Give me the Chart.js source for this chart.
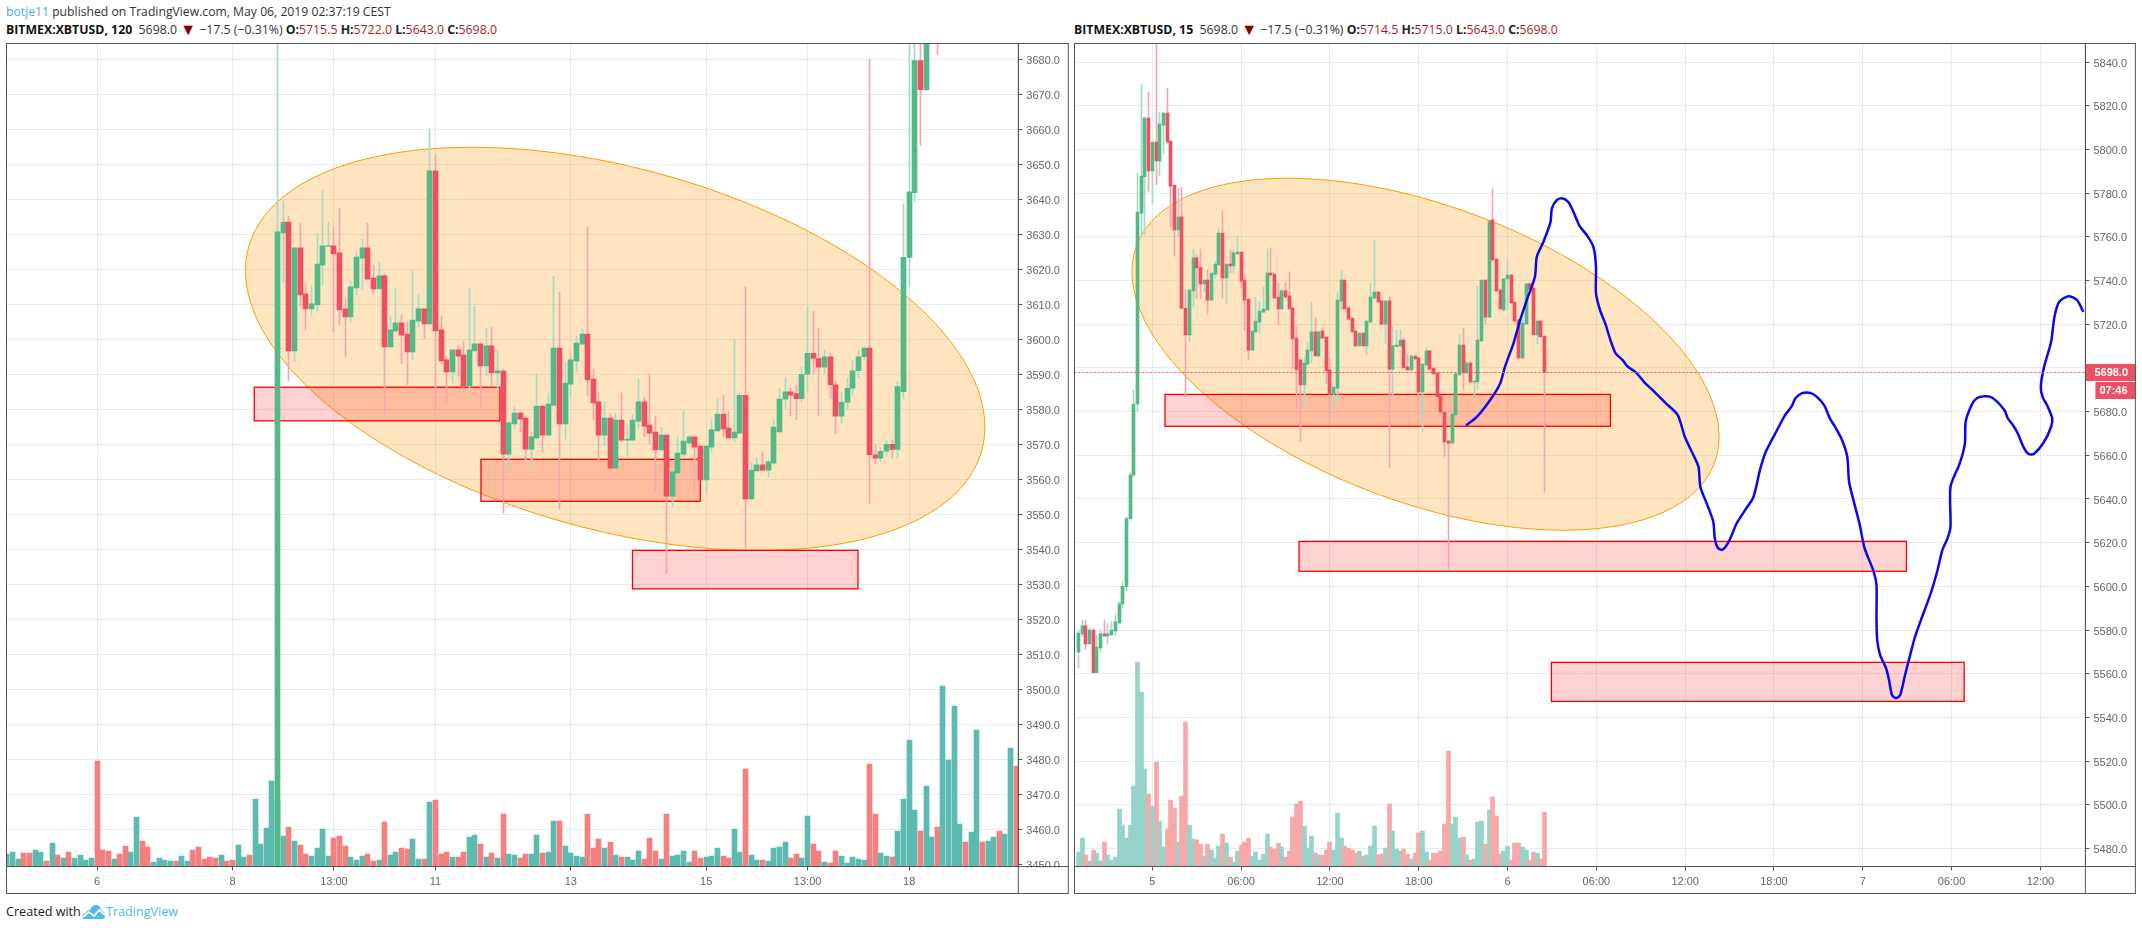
<!DOCTYPE html>
<html><head><meta charset="utf-8">
<script src="https://cdn.jsdelivr.net/npm/chart.js@4"></script>
<style>
html,body{margin:0;padding:0;background:#fff;width:2142px;height:930px;overflow:hidden}
canvas{position:absolute;top:0}
.t{position:absolute;white-space:nowrap;font-family:"Open Sans",sans-serif;font-size:12.2px;line-height:16px;color:#333}
.row{font-size:12.3px}
.b{font-weight:700;color:#111}.r{color:#b01c1c}.k{color:#222;font-weight:700}.tri{color:#8b0000;font-size:16px;line-height:14px;vertical-align:-1px}
.blue{color:#42b4e6}
</style></head><body>
<div class="t" style="left:6px;top:4px"><span class="blue">botje11</span> published on TradingView.com, May 06, 2019 02:37:19 CEST</div>
<div class="t row" style="left:6px;top:22px"><span class="b">BITMEX:XBTUSD, 120</span>&nbsp; 5698.0 <span class="tri">▼</span> −17.5 (−0.31%) <span class="k">O:</span><span class="r">5715.5</span> <span class="k">H:</span><span class="r">5722.0</span> <span class="k">L:</span><span class="r">5643.0</span> <span class="k">C:</span><span class="r">5698.0</span></div>
<div class="t row" style="left:1074px;top:22px"><span class="b">BITMEX:XBTUSD, 15</span>&nbsp; 5698.0 <span class="tri">▼</span> −17.5 (−0.31%) <span class="k">O:</span><span class="r">5714.5</span> <span class="k">H:</span><span class="r">5715.0</span> <span class="k">L:</span><span class="r">5643.0</span> <span class="k">C:</span><span class="r">5698.0</span></div>
<div class="t" style="left:6px;top:904px;font-size:12.6px;color:#222">Created with</div>
<svg style="position:absolute;left:82px;top:904px" width="24" height="16" viewBox="0 0 24 16"><path d="M1 15 Q-1 10 4 9 Q5 6 8 6 Q10 1 14 1 Q18 1 19 6 Q24 8 23 13 Q22 15 20 15 Z" fill="#4fb9e8"/><path d="M1 13 L7 8 L12 12 L17 6 L23 11" fill="none" stroke="#fff" stroke-width="1.7"/></svg>
<div class="t" style="left:106px;top:904px;font-size:12.6px;color:#4fb9e8">TradingView</div>
<canvas id="left" width="1070" height="930" style="left:0"></canvas>
<canvas id="right" width="1072" height="930" style="left:1070px"></canvas>
<script>
// ---------- tick labels ----------
const leftPriceTicks=[3450,3460,3470,3480,3490,3500,3510,3520,3530,3540,3550,3560,3570,3580,3590,3600,3610,3620,3630,3640,3650,3660,3670,3680];
const rightPriceTicks=[5480,5500,5520,5540,5560,5580,5600,5620,5640,5660,5680,5700,5720,5740,5760,5780,5800,5820,5840];
const leftTimeIdx=[16,40,58,76,100,124,142,160];
const leftTimeLabels=['6','8','13:00','11','13','15','13:00','18'];
const rightTimeIdx=[20,44,68,92,116,140,164,188,212,236,260];
const rightTimeLabels=['5','06:00','12:00','18:00','6','06:00','12:00','18:00','7','06:00','12:00'];

// ---------- left pane (120 min) ----------
const leftCandleStart=48;
const leftOpen=[3440,3630.4,3633.5,3596.7,3626.1,3613,3608.7,3609.8,3621.2,3626.5,
3626.7,3624.7,3608.7,3606.4,3614.7,3623.2,3626.1,3617.5,3614.4,3618.1,
3597.8,3602.4,3604.7,3601.5,3596.4,3605.2,3608.7,3604.4,3648.1,3602.7,
3594.1,3590.7,3597,3595.5,3586.7,3596.7,3598.7,3592.4,3598.1,3590.4,
3590.9,3567.2,3575.8,3578.9,3577.5,3568.6,3571.8,3580.9,3572.6,3581.2,
3597.5,3575.8,3587.2,3593.8,3598.6,3601.5,3588.6,3582.1,3572.6,3577.5,
3563.2,3576.9,3571.2,3571.2,3576.6,3582.1,3575.5,3573.5,3568.4,3572.6,
3555.2,3561.8,3567.2,3570.4,3572.1,3569.5,3559.8,3569.2,3573.8,3578.6,
3574.6,3571.8,3573.2,3584,3554.4,3562.4,3564.1,3562.6,3564.6,3573.5,
3582.9,3585,3584.5,3583,3590,3596,3594.5,3592,3595,3587,
3578,3582,3586,3591,3595,3597.5,3567,3566,3568,3570,
3568.5,3585,3623.4,3641.9,3679.6,3671.3,3700,3720];
const leftHigh=[3700,3639.5,3635.2,3626.1,3633.2,3616.1,3615,3630.1,3642.7,3633.5,
3632.1,3637.5,3611.5,3616.7,3624.7,3628.7,3633.2,3621.2,3622.1,3618.7,
3606.7,3614.7,3607,3605,3619.5,3613,3608.7,3660.1,3652.7,3606.7,
3595,3597,3598.1,3599.5,3614.7,3609.5,3599,3603,3603.5,3597,
3591.5,3576.6,3580.6,3579.5,3578.1,3573.5,3590.1,3580.9,3584.6,3618,
3613.5,3593.5,3596,3600.9,3602.9,3632,3591.5,3584.9,3582.1,3578.6,
3578.9,3584.6,3575.5,3578.6,3588.6,3583.5,3590.1,3578.1,3574.9,3572.6,
3562.1,3572.1,3579.5,3572.6,3572.1,3570.1,3569.5,3576.9,3582.9,3584,
3579.5,3600,3584.6,3615,3564.6,3566.1,3568,3565.5,3576.9,3586,
3589,3586,3587,3592,3609.5,3608,3603,3597,3596,3588,
3585,3589,3594,3597,3598,3680,3570,3569,3571,3571,
3588,3638.7,3700,3700,3700,3705,3725,3725];
const leftLow=[3440,3616.2,3588.1,3593.5,3609.5,3602.7,3606.7,3608.1,3615.5,3626.5,
3602.1,3604.1,3595,3604.7,3612.7,3614.4,3617.2,3613,3614.4,3578.9,
3597.8,3602.1,3593,3587,3594.1,3603.5,3600.1,3604.1,3579.8,3593,
3582,3587.5,3589.5,3585.7,3585.5,3596.7,3580,3589.5,3586.7,3585.7,
3550.3,3562.9,3574.6,3573.5,3565.5,3562.9,3571.8,3568,3572.6,3580.9,
3551.5,3571.5,3583.5,3590.6,3598.6,3584,3576.9,3565.5,3569.5,3562.6,
3562.9,3570.9,3566.1,3571.2,3574.6,3572.1,3570.1,3556.9,3568,3533,
3552.1,3560.1,3566.1,3570.1,3556.1,3559.8,3556.1,3568,3573.8,3572.1,
3571.8,3570.6,3573.2,3540,3554.1,3562.4,3562.6,3560.6,3564.4,3573.5,
3580,3578,3577,3582,3585,3590,3578,3590,3583,3573,
3576,3580,3584,3589,3594,3553,3564.5,3565,3566.5,3566,
3566,3583,3615,3639.4,3655.4,3671,3695,3681.4];
const leftClose=[3630.7,3633.5,3596.7,3626.1,3612.7,3608.7,3610.1,3621.5,3626.7,3626.7,
3624.4,3608.4,3606.4,3615,3623.5,3626.1,3617.2,3614.4,3618.1,3597.8,
3602.7,3604.7,3601.2,3596.4,3605.5,3608.7,3604.4,3648.1,3602.4,3593.8,
3590.7,3597,3595.2,3586.7,3597,3598.7,3592.4,3598.1,3590.4,3591,
3567.2,3576.1,3578.9,3577.2,3568.6,3572.1,3580.9,3572.6,3581.5,3597.5,
3575.8,3587.5,3594.1,3598.9,3601.5,3588.4,3581.8,3572.6,3577.5,3563.2,
3576.9,3571.2,3571.5,3576.9,3582.1,3575.2,3573.2,3568.4,3572.6,3555.2,
3562.1,3567.5,3570.9,3572.1,3569.2,3559.8,3569.5,3574.1,3578.6,3574.4,
3571.8,3573.5,3584,3554.4,3562.6,3564.1,3562.6,3565,3574.9,3582.9,
3585,3584,3583,3590,3596,3594.5,3592,3595,3587,3578,
3582,3586,3591,3595,3597.5,3567,3566,3568,3570,3568.5,
3586.5,3623.4,3642.1,3679.6,3671.3,3700,3720,3705];
const leftVolume=[37,43,22,40,40,49,43,16,70,34,25,43,25,34,19,25,316,49,46,22,37,61,43,148,76,58,13,25,19,16,
16,31,16,49,58,22,28,25,34,16,19,64,28,34,202,67,115,256,200,91,118,76,64,37,31,55,112,31,85,91,
61,28,19,31,37,16,19,133,34,43,55,52,82,22,22,193,199,37,43,28,28,43,88,94,67,28,40,25,157,37,
34,25,37,37,94,40,43,136,136,61,40,31,28,157,55,82,55,73,34,28,28,19,46,22,85,46,22,157,31,34,
46,13,46,25,28,31,55,31,25,112,43,292,34,19,19,16,55,58,73,25,37,25,151,67,46,13,10,46,31,10,
28,22,19,307,157,40,31,28,106,202,379,169,106,241,88,118,541,319,481,127,73,103,409,73,76,88,106,97,355,301];
const leftVolumeDir=["uuudduudud","uduuuudddu","dduudduuuu","duudddddud","duuduuuuuu","dudduuuudd","duuudduduu","dduududddu","dduudududu","udduuduudu","uuudddudud","uuuddduduu","uudduuuddu","uduuduuuud","duuddudduu","uuudduuduu","uuduuduuuu","duuduuduud"].join('').split('');

// ---------- right pane (15 min) ----------
const rightOpen=[5569.9,5578.2,5581.9,5573.6,5580,5560.5,5571.8,5578.2,5577.3,5577.7,
5579.6,5583.2,5592,5600,5631,5651,5683.5,5770.9,5787.6,5814.5,
5790.2,5803.5,5794.8,5811.2,5816.7,5803.9,5783.6,5763.2,5769.2,5727.3,
5715.1,5735.3,5750.4,5746.1,5738.5,5740.3,5731.1,5743,5747.2,5761.8,
5741.2,5747.6,5746.7,5752.2,5753.1,5740.3,5731.6,5708.2,5716.5,5721,
5725.6,5726.6,5743.5,5743,5732.5,5727,5735.3,5733,5727.5,5713.7,
5703.7,5692.2,5701.8,5707.8,5716.5,5705.5,5716.9,5714.2,5699.1,5688.1,
5690.8,5730.7,5740.3,5727.5,5722.9,5716.9,5710.1,5716,5710.1,5721,
5732,5734.8,5730.7,5720.1,5730.7,5699.5,5709.8,5710.1,5712.8,5700.5,
5699.1,5705.5,5704.6,5689,5701.4,5707.8,5700,5697.7,5687.2,5679.8,
5666.6,5665.6,5678.5,5696.8,5710.5,5697.7,5702.3,5693.6,5693.6,5712.4,
5740.3,5723.3,5767.8,5749.9,5735.7,5726.6,5740.8,5742.6,5730.2,5722,
5704.6,5720.1,5738.5,5736.6,5715.1,5721.5,5714.5];
const rightHigh=[5580,5584.6,5584.6,5581,5580.5,5577.7,5580,5584.6,5583,5584,
5587,5593,5602,5632,5652,5690,5789.3,5830,5815,5826.4,
5803.5,5855,5817.2,5817.2,5828.2,5804,5784,5782.4,5782.9,5735.7,
5736.2,5754.5,5751.8,5754.5,5740.3,5744.9,5743.5,5749,5764.1,5771.9,
5747.6,5754,5754,5760,5753.1,5743,5731.6,5717.4,5732.5,5730.4,
5737.1,5754.5,5755,5743,5738.9,5736,5739.4,5744,5727.5,5719.2,
5703.7,5705.2,5712,5730.2,5722.9,5716.5,5718,5714.2,5704.6,5691.3,
5734.8,5744.4,5740.3,5728.4,5722.9,5717,5716,5716,5721.5,5738.9,
5758.6,5735,5731,5730.7,5733,5719.2,5717.4,5717.4,5713,5706.3,
5706,5706,5704.6,5702,5709.3,5708,5700,5698,5687.2,5680,
5666.6,5679,5697.5,5715.1,5718.3,5703,5703,5694.5,5737.5,5740.3,
5740.3,5767.3,5782,5750,5736,5741,5749.5,5743,5730.2,5722,
5722,5738.5,5739,5737,5722,5722,5715];
const rightLow=[5562.5,5577,5571.2,5573.6,5560.5,5560.5,5569.9,5577,5573.6,5577.5,
5577.6,5583,5590,5598,5630,5650,5680,5760.9,5760.9,5781,
5775.1,5783.8,5787.9,5798.3,5803,5764.7,5751.2,5760,5727.3,5686.9,
5712,5728,5731.9,5731.9,5735,5724.3,5731.1,5741,5747.2,5731.9,
5729.6,5743.4,5743.4,5752.2,5736.6,5717.4,5703.7,5708.2,5716.5,5716,
5725.6,5726.6,5742,5732,5719.7,5727,5732,5727,5699.8,5681.5,
5666.3,5681.5,5701.8,5702.4,5705.5,5705,5713.7,5692.7,5676.2,5680.8,
5685.8,5726.6,5727,5722,5716.5,5710,5710,5710,5706,5721,
5732,5730,5720,5711.4,5654.2,5687.6,5709.8,5710,5700,5699,
5699,5704,5677.5,5670.7,5701,5699.5,5697,5686.7,5680,5659.4,
5608,5665,5678,5696.8,5689.9,5697.7,5693,5686.1,5689.9,5712,
5720.1,5723.3,5749,5735,5727,5726,5726.6,5729.8,5721,5704,
5704,5720,5736,5715,5711,5714,5643];
const rightClose=[5578.6,5581.9,5573.6,5580,5560.5,5572.2,5578.2,5577.3,5578.2,5580,
5583.7,5592,5600,5631,5651,5683.5,5771.4,5787.9,5814.5,5790.2,
5803.5,5794.8,5811.7,5816.7,5803.5,5783.3,5763.2,5769.1,5727.3,5715.1,
5735.7,5750.4,5745.8,5738.5,5740.3,5731.1,5743.5,5747.6,5761.8,5741.2,
5747.6,5746.7,5752.7,5753.1,5739.8,5731.1,5708.2,5716.9,5721.5,5726.1,
5727,5743.5,5742.6,5732,5727,5735.3,5732.5,5727,5713.3,5699.1,
5692.2,5702.3,5708.2,5716.5,5705.5,5716.5,5713.7,5698.6,5688.1,5691.3,
5731.1,5740.3,5727,5722.4,5716.5,5710.1,5716,5710.1,5721.5,5732.5,
5734.8,5730.2,5720.1,5730.7,5699.5,5710.1,5710.5,5712.8,5700,5699.1,
5705.5,5704.1,5689,5701.8,5707.8,5699.5,5697.3,5686.7,5679.8,5666.1,
5665.6,5678.9,5697.3,5710.5,5697.7,5702.3,5693.6,5694,5712.8,5740.3,
5723.3,5767.3,5749.5,5735.3,5727,5740.8,5742.6,5729.8,5721.5,5704.6,
5720.6,5738.5,5736.2,5715.1,5721.5,5714.2,5698];
const rightVolume=[43,85,34,16,49,40,16,73,34,19,28,172,124,85,124,241,613,523,292,217,181,313,136,58,112,199,175,73,211,433,
124,82,79,67,31,67,49,25,61,97,70,28,13,46,64,73,85,31,43,19,37,97,58,52,70,58,28,46,148,187,
196,121,55,91,40,34,34,49,73,49,160,85,61,55,49,40,46,31,34,61,121,34,37,55,187,106,52,46,52,37,
22,40,100,106,43,19,40,40,46,127,346,127,148,85,88,34,19,22,133,136,67,169,208,151,37,46,61,19,70,70,
58,49,19,43,40,22,163];
// projected path drawn on the 15-minute pane: bar index, price
const pathIdx=[104.8,107.7,111.3,114,115.3,117.6,119.4,121.2,123.4,123.9,125.7,127.6,128,129.3,130.6,132.4,133.7,135.5,137.4,139.2,139.9,139.9,141,142.4,143.8,145.2,147.1,148.5,150.8,153.1,155,158.8,162,163.9,165.8,167.6,168.1,170,171.6,172,172.9,174.2,176,177.9,180.2,182.3,183.2,184.2,185.8,188.6,191,192.8,193.8,195.6,198,199.9,201.7,203.1,204.5,206.4,207.8,208.3,209.7,211.1,212.5,214.8,215.7,215.7,215.9,216.7,218.3,219.1,219.9,221,222.1,223.4,224.8,226.1,227.7,230.2,232.1,233.5,234.9,235.7,235.7,238.2,239.6,239.8,241.4,242.8,244.9,247,250.3,251.2,252.6,253.9,255.4,256.8,258.2,261,262.9,263.2,262,260.6,260.1,261,262.9,263.8,265.1,267.6,269.9,271.6];
const pathPrice=[5673.8,5677.6,5685.3,5692.9,5700.5,5711.3,5721.9,5731.1,5741.8,5750.9,5757.8,5766.8,5773.2,5776.9,5777.7,5776.1,5771.9,5765,5760.9,5755.5,5746.4,5734.2,5726.5,5720.4,5712.8,5706.7,5703.6,5700.6,5697.8,5693.2,5690.2,5683.8,5678.4,5668.5,5661.6,5654.7,5645.6,5637.2,5629.6,5622,5617.4,5616.9,5621.2,5628.8,5634.9,5640.3,5645.6,5653.2,5661.6,5670.8,5678.4,5682.5,5686.1,5688.5,5688.5,5686.3,5682.5,5676.9,5673.1,5667,5659.3,5647.9,5638,5628.8,5617.4,5607.4,5600.6,5585.5,5575.4,5568.5,5562.5,5557,5550.2,5548.8,5550.2,5559.3,5568.5,5576.8,5584.5,5596,5606.7,5616.6,5622,5627.3,5645.6,5656.3,5665.5,5675.4,5683,5686.1,5687,5686.4,5680.7,5676.9,5673.8,5670,5663.9,5660.6,5660.6,5666.2,5673.1,5676.9,5682.2,5686.8,5691.4,5700.5,5712,5723.5,5730.3,5732.9,5731.1,5725.7];

// ---------- drawings, in data units (bar index / price) ----------
const leftZones=[[43.87,87.44,3586.3,3576.7],[84.07,122.96,3565.7,3553.7],[110.94,150.93,3539.7,3528.7]];
const rightZones=[[23.43,143.8,5687.9,5673.3],[59.65,223.8,5620.6,5606.9],[127.86,239.4,5565.2,5547.3]];
const leftEllipse={cx:107.87,cy:3597.26,ux:65.56,uy:-22.34,vx:0,vy:-53.09};
const rightEllipse={cx:93.84,cy:5706.3,ux:79.32,uy:-37.79,vx:0,vy:-71.18};
const lastPrice=5698;

const GRID='#e4ecf2',AXIS='#555',TXT='#666',FONT='"Liberation Sans",Arial,sans-serif';
const UP='#53b987',DOWN='#ef5061',UPW='#a3dcc4',DOWNW='#f8a4b0';

function pane(id,c){
  const n=c.open.length, at=i=>c.start+i;
  const isUp=i=>c.close[i]>=c.open[i];
  const volColor=c.volume.map((_,i)=>c.volUp(i)?c.volUpColor:c.volDownColor);
  const drawings={id:'drawings',
    beforeDatasetsDraw(ch){
      const g=ch.ctx,x=ch.scales.x,y=ch.scales.y,a=ch.chartArea,e=c.ellipse;
      g.save();g.beginPath();g.rect(a.left,a.top,a.right-a.left,a.bottom-a.top);g.clip();
      g.beginPath();
      for(let k=0;k<240;k++){const t=k/240*2*Math.PI;
        const px=x.getPixelForValue(e.cx+e.ux*Math.cos(t)+e.vx*Math.sin(t));
        const py=y.getPixelForValue(e.cy+e.uy*Math.cos(t)+e.vy*Math.sin(t));
        k?g.lineTo(px,py):g.moveTo(px,py);}
      g.closePath();g.fillStyle='rgba(255,152,0,0.25)';g.fill();g.lineWidth=1;g.strokeStyle='#ff9800';g.stroke();
      c.zones.forEach(z=>{const x0=x.getPixelForValue(z[0]),x1=x.getPixelForValue(z[1]),y0=y.getPixelForValue(z[2]),y1=y.getPixelForValue(z[3]);
        g.fillStyle='rgba(255,0,0,0.18)';g.fillRect(x0,y0,x1-x0,y1-y0);
        g.lineWidth=1.3;g.strokeStyle='#f00';g.strokeRect(x0,y0,x1-x0,y1-y0);});
      g.restore();
    },
    beforeDatasetDraw(ch,args){
      if(args.meta.type==='bar')args.meta.data.forEach(el=>{el.x=Math.floor(el.x)+0.5;});
    },
    afterDraw(ch){
      const g=ch.ctx,a=ch.chartArea,R=a.right+c.axisW,B=a.bottom+27;
      g.save();
      g.fillStyle='#fff';g.fillRect(a.right+1,a.bottom+1,c.axisW-1,26);
      if(c.last){
        const y=ch.scales.y.getPixelForValue(c.last);
        g.setLineDash([2,2]);g.strokeStyle=DOWN;g.lineWidth=1;g.beginPath();g.moveTo(a.left,Math.round(y)+.5);g.lineTo(a.right,Math.round(y)+.5);g.stroke();g.setLineDash([]);
        const yy=Math.round(y);
        g.fillStyle=DOWN;g.fillRect(a.right+.5,yy-8,c.axisW,17);g.fillRect(a.right+10,yy+10,c.axisW-10,17);
        g.fillStyle='#fff';g.font='bold 11px '+FONT;g.textBaseline='middle';g.textAlign='left';
        g.fillText(c.last.toFixed(1),a.right+9,yy+1);g.fillText('07:46',a.right+14,yy+19);
      }
      g.strokeStyle=AXIS;g.lineWidth=1;
      g.strokeRect(a.left,a.top,R-a.left,B-a.top);
      g.beginPath();g.moveTo(a.right,a.top);g.lineTo(a.right,B);g.moveTo(a.left,a.bottom);g.lineTo(R,a.bottom);g.stroke();
      g.restore();
    }};
  const datasets=[
    {label:'Volume',yAxisID:'vol',order:4,grouped:false,barThickness:c.volW,backgroundColor:volColor,
     data:c.volume.map((v,i)=>({x:i,y:v}))},
    {label:'Wick',order:3,grouped:false,barThickness:1,backgroundColor:c.open.map((_,i)=>isUp(i)?UPW:DOWNW),
     data:c.high.map((h,i)=>({x:at(i),y:[c.low[i],h]}))},
    {label:'Body',order:2,grouped:false,barThickness:c.bodyW,backgroundColor:c.open.map((_,i)=>isUp(i)?UP:DOWN),
     data:c.open.map((o,i)=>({x:at(i),y:[o,c.close[i]]}))}
  ];
  if(c.pathIdx)datasets.push({type:'line',label:'Path',order:1,borderColor:'#0808ee',borderWidth:2.5,pointRadius:0,tension:0.25,fill:false,
     data:c.pathIdx.map((x,i)=>({x,y:c.pathPrice[i]}))});
  return new Chart(document.getElementById(id),{type:'bar',data:{datasets},plugins:[drawings],options:{
    responsive:false,animation:false,devicePixelRatio:1,
    layout:{padding:c.pad},
    plugins:{legend:{display:false},tooltip:{enabled:false},title:{display:false}},
    scales:{
      x:{type:'linear',min:c.xMin,max:c.xMax,offset:false,position:'bottom',
        afterFit(s){s.height=27;},
        afterBuildTicks(s){s.ticks=c.timeIdx.map(v=>({value:v}));},
        grid:{color:GRID,offset:false,tickLength:4,tickColor:AXIS,drawTicks:true},
        border:{color:AXIS},
        ticks:{autoSkip:false,maxRotation:0,includeBounds:false,color:TXT,padding:5,font:{family:FONT,size:11},callback:(v,i)=>c.timeLabels[i]}},
      y:{type:'linear',position:'right',min:c.yMin,max:c.yMax,
        afterFit(s){s.width=c.axisW;},
        afterBuildTicks(s){s.ticks=c.priceTicks.map(v=>({value:v}));},
        grid:{color:GRID,tickLength:4,tickColor:AXIS},
        border:{color:AXIS},
        ticks:{autoSkip:false,includeBounds:false,color:TXT,padding:4,labelOffset:1.5,font:{family:FONT,size:11},callback:v=>v.toFixed(1)}},
      vol:{type:'linear',display:false,min:0,max:2469,position:'left'}
    }}});
}
pane('left',{start:leftCandleStart,open:leftOpen,high:leftHigh,low:leftLow,close:leftClose,volume:leftVolume,
  volUp:i=>leftVolumeDir[i]==='u',volUpColor:'#5cbab0',volDownColor:'#f57e7e',volW:5,bodyW:5,
  zones:leftZones,ellipse:leftEllipse,axisW:50,pad:{left:6.5,right:1.7,top:43.5,bottom:36.5},
  xMin:-0.071,xMax:179.36,yMin:3449.37,yMax:3684.51,timeIdx:leftTimeIdx,timeLabels:leftTimeLabels,priceTicks:leftPriceTicks});
pane('right',{start:0,open:rightOpen,high:rightHigh,low:rightLow,close:rightClose,volume:rightVolume,
  volUp:i=>rightClose[i]>=rightOpen[i],volUpColor:'#95d3cb',volDownColor:'#f7a8a8',volW:4,bodyW:3,
  zones:rightZones,ellipse:rightEllipse,axisW:50,pad:{left:4.5,right:6.6,top:43.5,bottom:36.5},last:lastPrice,
  pathIdx,pathPrice,
  xMin:-1.027,xMax:272.16,yMin:5471.7,yMax:5848.6,timeIdx:rightTimeIdx,timeLabels:rightTimeLabels,priceTicks:rightPriceTicks});
</script>
</body></html>
